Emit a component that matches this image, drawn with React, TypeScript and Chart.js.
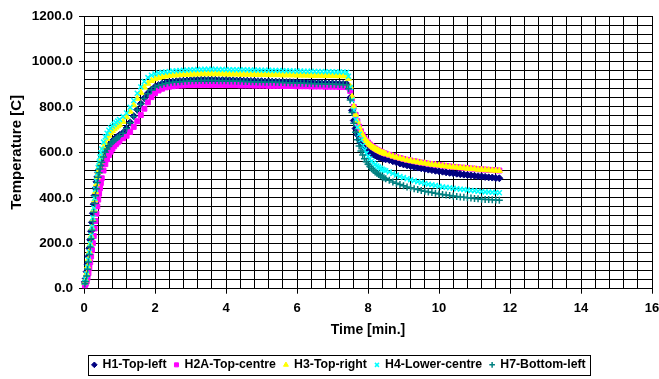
import { useEffect, useRef } from "react";
import { Chart, registerables } from "chart.js";

Chart.register(...registerables);

const FONT = "'Liberation Sans', Arial, Helvetica, sans-serif";

// Time axis [min.]
const TIME_MIN = [
  0.025, 0.05, 0.075, 0.1, 0.125, 0.15, 0.175, 0.2, 0.225, 0.25, 0.275, 0.3, 0.325, 0.35, 0.375, 0.4, 0.425, 0.45, 0.475, 0.5,
  0.55, 0.6, 0.65, 0.7, 0.75, 0.8, 0.85, 0.9, 0.95, 1.0,
  1.1, 1.2, 1.3, 1.4, 1.5, 1.6, 1.7, 1.8, 1.9, 2.0,
  2.1, 2.2, 2.3, 2.4, 2.5, 2.6, 2.7, 2.8, 2.9, 3.0,
  3.1, 3.2, 3.3, 3.4, 3.5, 3.6, 3.7, 3.8, 3.9, 4.0,
  4.1, 4.2, 4.3, 4.4, 4.5, 4.6, 4.7, 4.8, 4.9, 5.0,
  5.1, 5.2, 5.3, 5.4, 5.5, 5.6, 5.7, 5.8, 5.9, 6.0,
  6.1, 6.2, 6.3, 6.4, 6.5, 6.6, 6.7, 6.8, 6.9, 7.0,
  7.1, 7.2, 7.3, 7.4,
  7.45, 7.5, 7.55, 7.6, 7.65, 7.7, 7.75, 7.8, 7.85, 7.9, 7.95, 8.0, 8.05, 8.1, 8.15, 8.2, 8.25, 8.3, 8.35, 8.4, 8.45, 8.5,
  8.6, 8.7, 8.8, 8.9, 9.0, 9.1, 9.2, 9.3, 9.4, 9.5, 9.6, 9.7, 9.8, 9.9, 10.0, 10.1,
  10.2, 10.3, 10.4, 10.5, 10.6, 10.7, 10.8, 10.9, 11.0, 11.1, 11.2, 11.3, 11.4, 11.5, 11.6, 11.7,
];

// Temperatures [C]
const H1_TOP_LEFT = [
  30, 45, 75, 108, 142, 178, 215, 253, 292, 332, 372, 410, 442, 470, 492, 510, 525, 538, 550, 560,
  584, 604, 620, 632, 642, 650, 657, 664, 670, 676,
  686, 707, 732, 760, 788, 814, 839, 860, 876, 888,
  896, 902, 906, 909, 911, 913, 914, 915, 916, 917,
  918, 918, 919, 919, 919, 919, 919, 918, 918, 918,
  917, 917, 916, 916, 915, 915, 914, 914, 913, 913,
  912, 912, 911, 911, 910, 910, 909, 909, 908, 908,
  907, 907, 906, 906, 905, 905, 904, 904, 903, 903,
  902, 902, 901, 901,
  890, 840, 785, 740, 705, 678, 657, 641, 628, 618, 611, 606, 600, 595, 591, 587, 583, 580, 577, 575, 572, 570,
  566, 561, 556, 551, 547, 543, 539, 536, 533, 530, 527, 524, 522, 519, 517, 515,
  512, 510, 508, 506, 504, 502, 500, 499, 497, 495, 494, 492, 490, 489, 487, 486,
];

const H2A_TOP_CENTRE = [
  15, 22, 32, 48, 68, 92, 116, 142, 170, 200, 232, 265, 298, 330, 362, 392, 418, 442, 465, 486,
  520, 548, 570, 588, 603, 616, 627, 636, 644, 651,
  662, 673, 690, 712, 737, 764, 792, 820, 843, 860,
  872, 880, 886, 889, 891, 893, 894, 895, 896, 896,
  897, 897, 897, 897, 897, 897, 897, 897, 897, 896,
  896, 896, 896, 895, 895, 895, 895, 894, 894, 894,
  894, 893, 893, 893, 893, 892, 892, 892, 892, 891,
  891, 891, 891, 890, 890, 890, 890, 889, 889, 889,
  889, 888, 888, 888,
  886, 870, 836, 800, 765, 737, 713, 693, 677, 663, 652, 643, 635, 628, 622, 617, 612, 608, 604, 600, 597, 594,
  589, 584, 579, 575, 571, 567, 564, 561, 558, 555, 553, 550, 548, 546, 544, 542,
  540, 538, 536, 535, 533, 532, 530, 529, 528, 526, 525, 524, 523, 522, 521, 520,
];

const H3_TOP_RIGHT = [
  26, 38, 66, 98, 130, 163, 197, 232, 268, 306, 348, 390, 427, 460, 490, 515, 538, 558, 576, 592,
  620, 642, 660, 674, 686, 695, 703, 710, 716, 722,
  735, 755, 780, 808, 837, 863, 886, 903, 915, 923,
  928, 932, 935, 937, 939, 940, 941, 942, 943, 943,
  944, 944, 945, 945, 945, 945, 945, 945, 945, 944,
  944, 944, 944, 943, 943, 943, 943, 942, 942, 942,
  942, 941, 941, 941, 941, 940, 940, 940, 940, 939,
  939, 939, 939, 938, 938, 938, 938, 937, 937, 937,
  937, 936, 936, 936,
  925, 890, 845, 802, 766, 736, 712, 692, 676, 662, 651, 642, 634, 627, 621, 616, 611, 607, 603, 599, 596, 593,
  588, 583, 578, 574, 570, 566, 563, 560, 557, 554, 552, 549, 547, 545, 543, 541,
  539, 537, 535, 534, 532, 531, 529, 528, 527, 525, 524, 523, 522, 521, 520, 519,
];

const H4_LOWER_CENTRE = [
  28, 40, 65, 95, 128, 162, 198, 235, 272, 312, 355, 398, 438, 474, 506, 534, 558, 580, 598, 615,
  645, 668, 684, 697, 707, 716, 724, 731, 738, 745,
  758, 773, 798, 828, 860, 888, 912, 929, 939, 945,
  949, 952, 954, 956, 958, 959, 960, 961, 962, 963,
  964, 965, 965, 966, 966, 966, 966, 965, 965, 965,
  964, 964, 964, 963, 963, 963, 962, 962, 962, 961,
  961, 961, 960, 960, 960, 959, 959, 959, 958, 958,
  958, 957, 957, 957, 956, 956, 956, 955, 955, 955,
  954, 954, 954, 953,
  935, 885, 830, 785, 745, 710, 680, 655, 630, 610, 595, 582, 571, 561, 553, 546, 540, 535, 530, 526, 522, 519,
  514, 507, 500, 494, 489, 484, 479, 475, 471, 467, 463, 460, 457, 454, 451, 448,
  446, 444, 442, 440, 438, 436, 434, 432, 431, 429, 428, 426, 425, 424, 423, 422,
];

const H7_BOTTOM_LEFT = [
  22, 32, 56, 86, 117, 150, 184, 220, 257, 296, 336, 375, 410, 440, 467, 490, 510, 527, 542, 556,
  580, 600, 615, 627, 637, 645, 652, 659, 665, 671,
  684, 705, 730, 758, 786, 812, 837, 858, 874, 886,
  894, 899, 903, 906, 908, 910, 911, 912, 913, 914,
  915, 915, 916, 916, 916, 916, 916, 915, 915, 915,
  914, 914, 913, 913, 912, 912, 911, 911, 910, 910,
  909, 909, 908, 908, 907, 907, 906, 906, 905, 905,
  904, 904, 903, 903, 902, 902, 901, 901, 900, 900,
  899, 899, 898, 898,
  880, 830, 775, 728, 688, 655, 628, 606, 588, 572, 559, 548, 538, 529, 521, 514, 508, 502, 497, 492, 488, 484,
  477, 470, 464, 458, 453, 448, 444, 440, 436, 432, 429, 426, 423, 420, 417, 415,
  412, 410, 408, 406, 404, 402, 400, 399, 397, 396, 394, 393, 392, 391, 390, 389,
];

const SERIES_NAMES = ["H1-Top-left", "H2A-Top-centre", "H3-Top-right", "H4-Lower-centre", "H7-Bottom-left"];
const SERIES_VALUES = [H1_TOP_LEFT, H2A_TOP_CENTRE, H3_TOP_RIGHT, H4_LOWER_CENTRE, H7_BOTTOM_LEFT];
const SERIES_COLORS = ["#000080", "#FF00FF", "#FFFF00", "#00FFFF", "#008080"];
const SERIES_MARKERS = ["rectRot", "rect", "triangle", "crossRot", "cross"];

const X_MIN = 0, X_MAX = 16, X_LABEL_STEP = 2, X_GRID_STEP = 0.4;
const Y_MIN = 0, Y_MAX = 1200, Y_LABEL_STEP = 200, Y_GRID_STEP = 40;

const legendBoxPlugin = {
  id: "legendBox",
  afterLayout(chart: any) {
    const lg = chart.legend;
    if (lg) {
      lg.left += 13;
      lg.right += 13;
    }
  },
  afterDraw(chart: any) {
    const lg = chart.legend;
    const hb = lg && lg.legendHitBoxes;
    if (!hb || !hb.length) return;
    const ctx = chart.ctx;
    const left = Math.min(...hb.map((h: any) => h.left)) - 4;
    const right = Math.max(...hb.map((h: any) => h.left + h.width)) + 5;
    const cy = hb[0].top + hb[0].height / 2;
    ctx.save();
    ctx.strokeStyle = "#000";
    ctx.lineWidth = 1;
    ctx.strokeRect(Math.round(left) + 0.5, Math.round(cy - 10) + 0.5, Math.round(right - left), 20);
    ctx.restore();
  },
};

export default function App() {
  const ref = useRef<HTMLCanvasElement | null>(null);

  useEffect(() => {
    if (!ref.current) return;
    const tickFont = { family: FONT, size: 13, weight: "bold" as const };
    const datasets = SERIES_NAMES.map((name, s) => ({
      label: name,
      data: TIME_MIN.map((t, i) => ({ x: t, y: SERIES_VALUES[s][i] })),
      pointStyle: SERIES_MARKERS[s],
      pointRadius: 3.5,
      pointHoverRadius: 3.5,
      pointBackgroundColor: SERIES_COLORS[s],
      pointBorderColor: SERIES_COLORS[s],
      pointBorderWidth: s >= 3 ? 1.5 : 1,
      backgroundColor: SERIES_COLORS[s],
      borderColor: SERIES_COLORS[s],
      showLine: false,
      clip: false as any,
      order: SERIES_NAMES.length - s,
    }));

    const chart = new Chart(ref.current, {
      type: "scatter",
      data: { datasets },
      plugins: [legendBoxPlugin],
      options: {
        responsive: false,
        animation: false,
        devicePixelRatio: 1,
        layout: { padding: { left: 0, right: 7, top: 16, bottom: -2 } },
        plugins: {
          tooltip: { enabled: false },
          legend: {
            position: "bottom",
            labels: {
              usePointStyle: true,
              boxWidth: 4,
              boxHeight: 4,
              padding: 8,
              color: "#000",
              font: { family: FONT, size: 12.3, weight: "bold" },
              sort: (a: any, b: any) => a.datasetIndex - b.datasetIndex,
            },
          },
        },
        scales: {
          x: {
            type: "linear",
            position: "bottom",
            min: X_MIN,
            max: X_MAX,
            ticks: { stepSize: X_LABEL_STEP, padding: 7, color: "#000", font: tickFont, maxRotation: 0, autoSkip: false },
            grid: { drawOnChartArea: false, drawTicks: true, tickLength: 5, color: "#000", lineWidth: 1 },
            border: { display: true, color: "#000", width: 1 },
            title: {
              display: true,
              text: "Time [min.]",
              color: "#000",
              font: { family: FONT, size: 14, weight: "bold" },
              padding: { top: 0, bottom: 12.5 },
            },
            afterFit: (s: any) => {
              s.height = 62;
              s.paddingLeft = 0;
              s.paddingRight = 0;
            },
          },
          xGrid: {
            type: "linear",
            position: "bottom",
            min: X_MIN,
            max: X_MAX,
            ticks: { display: false, stepSize: X_GRID_STEP },
            grid: { color: "#000", lineWidth: 1, drawTicks: false },
            border: { display: false },
            afterFit: (s: any) => {
              s.height = 0;
              s.paddingLeft = 0;
              s.paddingRight = 0;
            },
          },
          y: {
            type: "linear",
            position: "left",
            min: Y_MIN,
            max: Y_MAX,
            ticks: {
              stepSize: Y_LABEL_STEP,
              padding: 6,
              color: "#000",
              font: { family: FONT, size: 13.5, weight: "bold" },
              callback: (v: any) => Number(v).toFixed(1),
            },
            grid: { drawOnChartArea: false, drawTicks: true, tickLength: 5, color: "#000", lineWidth: 1 },
            border: { display: true, color: "#000", width: 1 },
            title: {
              display: true,
              text: "Temperature [C]",
              color: "#000",
              font: { family: FONT, size: 15, weight: "bold" },
              padding: { top: 8, bottom: 0 },
            },
            afterFit: (s: any) => {
              s.width = 84;
              s.paddingTop = 0;
              s.paddingBottom = 0;
            },
          },
          yGrid: {
            type: "linear",
            position: "left",
            min: Y_MIN,
            max: Y_MAX,
            ticks: { display: false, stepSize: Y_GRID_STEP },
            grid: { color: "#000", lineWidth: 1, drawTicks: false },
            border: { display: false },
            afterFit: (s: any) => {
              s.width = 0;
              s.paddingTop = 0;
              s.paddingBottom = 0;
            },
          },
        },
      } as any,
    });
    return () => chart.destroy();
  }, []);

  return (
    <div style={{ position: "absolute", left: 0, top: 0, width: 659, height: 379, background: "#fff" }}>
      <canvas ref={ref} width={659} height={379} style={{ display: "block", width: 659, height: 379 }} />
    </div>
  );
}
